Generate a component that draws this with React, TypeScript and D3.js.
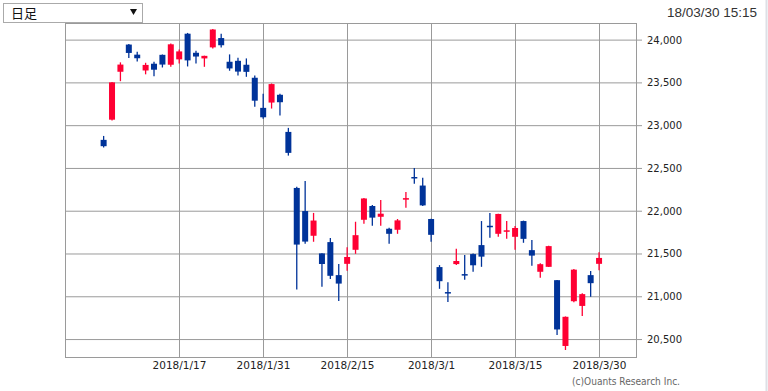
import React from 'react';
import * as d3 from 'd3';

const dates = [
  '2017/12/29',
  '2018/1/4', '2018/1/5', '2018/1/9', '2018/1/10', '2018/1/11', '2018/1/12', '2018/1/15', '2018/1/16', '2018/1/17',
  '2018/1/18', '2018/1/19', '2018/1/22', '2018/1/23', '2018/1/24', '2018/1/25', '2018/1/26', '2018/1/29', '2018/1/30', '2018/1/31',
  '2018/2/1', '2018/2/2', '2018/2/5', '2018/2/6', '2018/2/7', '2018/2/8', '2018/2/9', '2018/2/13', '2018/2/14', '2018/2/15',
  '2018/2/16', '2018/2/19', '2018/2/20', '2018/2/21', '2018/2/22', '2018/2/23', '2018/2/26', '2018/2/27', '2018/2/28', '2018/3/1',
  '2018/3/2', '2018/3/5', '2018/3/6', '2018/3/7', '2018/3/8', '2018/3/9', '2018/3/12', '2018/3/13', '2018/3/14', '2018/3/15',
  '2018/3/16', '2018/3/19', '2018/3/20', '2018/3/22', '2018/3/23', '2018/3/26', '2018/3/27', '2018/3/28', '2018/3/29', '2018/3/30',
];

const opens = [
  22834,
  23070, 23630, 23948, 23830, 23645, 23724, 23828, 23712, 23775,
  24075, 23852, 23786, 23915, 24024, 23747, 23758, 23712, 23560, 23208,
  23270, 23361, 22927, 22272, 22002, 21713, 21507, 21639, 21253, 21385,
  21549, 21900, 22061, 21935, 21795, 21783, 22135, 22400, 22300, 21909,
  21347, 21055, 21382, 21265, 21499, 21604, 21830, 21736, 21760, 21701,
  21885, 21545, 21292, 21350, 21194, 20425, 20948, 20893, 21253, 21385,
];

const highs = [
  22880,
  23510, 23740, 23955, 23865, 23735, 23747, 23832, 23960, 23890,
  24084, 23876, 23818, 24130, 24075, 23833, 23795, 23786, 23585, 23372,
  23493, 23372, 22974, 22285, 22354, 21980, 21510, 21686, 21382, 21580,
  21877, 22154, 22073, 22131, 21807, 21909, 22225, 22506, 22390, 21912,
  21370, 21171, 21561, 21487, 21505, 21885, 21979, 21970, 21885, 21827,
  21890, 21663, 21393, 21595, 21196, 20770, 21324, 21042, 21300, 21519,
];

const lows = [
  22745,
  23060, 23520, 23790, 23750, 23600, 23578, 23680, 23690, 23727,
  23692, 23727, 23688, 23903, 23915, 23642, 23587, 23571, 23220, 23080,
  23200, 23118, 22650, 21085, 21620, 21643, 21116, 21209, 20952, 21303,
  21502, 21853, 21830, 21830, 21619, 21736, 22041, 22322, 22060, 21643,
  21093, 20940, 21370, 21198, 21292, 21350, 21690, 21701, 21678, 21549,
  21631, 21362, 21221, 21348, 20554, 20378, 20937, 20776, 20999, 21311,
];

const closes = [
  22760,
  23506, 23714, 23850, 23788, 23710, 23654, 23714, 23951, 23868,
  23763, 23808, 23816, 24124, 23940, 23669, 23632, 23629, 23292, 23098,
  23486, 23274, 22682, 21610, 21645, 21891, 21383, 21245, 21154, 21465,
  21720, 22149, 21925, 21971, 21736, 21893, 22153, 22390, 22068, 21724,
  21182, 21042, 21418, 21253, 21368, 21469, 21824, 21968, 21777, 21804,
  21677, 21481, 21381, 21592, 20618, 20766, 21317, 21031, 21159, 21454,
];

const yTicks = [20500, 21000, 21500, 22000, 22500, 23000, 23500, 24000];
const xTickDates = ['2018/1/17', '2018/1/31', '2018/2/15', '2018/3/1', '2018/3/15', '2018/3/30'];

const UP = '#ff0033';
const DOWN = '#003399';
const GRID = '#9a9a9a';

export default function App() {
  const left = 65, right = 636, top = 23, bottom = 357;

  // index 1 = first trading day of 2018
  const x = d3.scaleLinear().domain([-4.6, 63.4]).range([left, right]);
  const y = d3.scaleLinear().domain([20296, 24200]).range([bottom, top]);
  const fmt = d3.format(',');
  const bodyW = 6;

  return (
    <div style={{ position: 'absolute', left: 0, top: 0, width: 768, height: 391, background: '#fff' }}>
      <svg width={768} height={391} style={{ display: 'block' }}>
        {/* period selector */}
        <rect x={3.5} y={3.5} width={139} height={19} fill="#fff" stroke="#aaa" />
        <text x={11} y={18} fontFamily="'Noto Sans CJK JP'" fontSize={13} fill="#111">日足</text>
        <path d="M130,9 L137,9 L133.5,15 Z" fill="#111" />

        <text x={757} y={17} textAnchor="end" fontFamily="'Liberation Sans'" fontSize={13.5} fill="#333">
          18/03/30 15:15
        </text>

        {/* grid */}
        {yTicks.map(t => (
          <g key={t}>
            <line x1={left} x2={right + 6} y1={y(t)} y2={y(t)} stroke={GRID} strokeWidth={1} />
            <text x={647} y={y(t)} dy="0.35em" fontFamily="'DejaVu Sans'" fontSize={10} fill="#222">
              {fmt(t)}
            </text>
          </g>
        ))}
        {xTickDates.map(dt => {
          const px = Math.round(x(dates.indexOf(dt))) + 0.5;
          return (
            <g key={dt}>
              <line x1={px} x2={px} y1={top} y2={bottom} stroke={GRID} strokeWidth={1} />
              <text x={px} y={369} textAnchor="middle" fontFamily="'DejaVu Sans'" fontSize={10.5} fill="#222">
                {dt}
              </text>
            </g>
          );
        })}
        <rect x={left + 0.5} y={top + 0.5} width={right - left} height={bottom - top} fill="none" stroke={GRID} strokeWidth={1} />

        {/* candles */}
        {dates.map((dt, i) => {
          const o = opens[i], c = closes[i];
          const col = c >= o ? UP : DOWN;
          const cx = x(i);
          const yTop = y(Math.max(o, c));
          const h = Math.max(1.5, Math.abs(y(o) - y(c)));
          return (
            <g key={dt}>
              <line x1={cx} x2={cx} y1={y(highs[i])} y2={y(lows[i])} stroke={col} strokeWidth={1.3} />
              <rect x={cx - bodyW / 2} y={yTop} width={bodyW} height={h} fill={col} />
            </g>
          );
        })}

        <text x={572} y={385} fontFamily="'DejaVu Sans'" fontSize={10.5} fill="#666"
          textLength={108} lengthAdjust="spacingAndGlyphs">
          (c)Ouants Research Inc.
        </text>
        <line x1={766.5} x2={766.5} y1={0} y2={391} stroke="#dde0e6" strokeWidth={2} />
      </svg>
    </div>
  );
}
